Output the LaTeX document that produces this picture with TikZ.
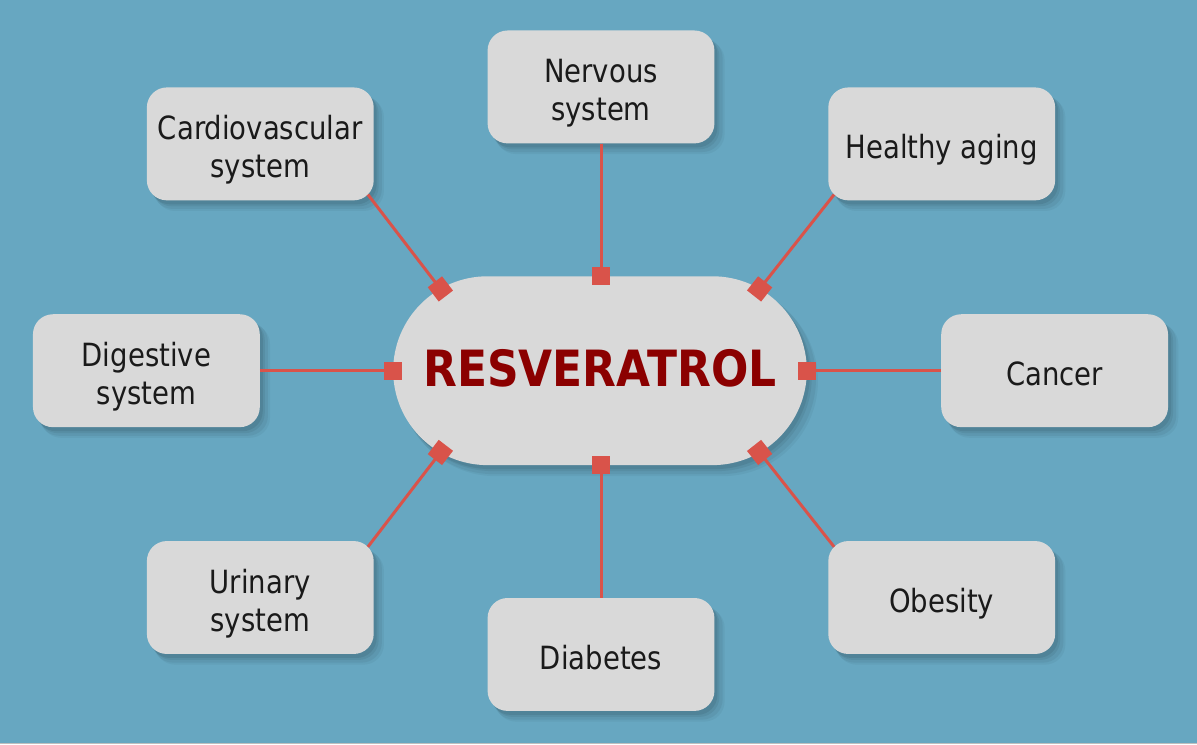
\documentclass[tikz,border=0pt]{standalone}
\usepackage{fontspec}
\setmainfont[FakeStretch=0.86]{DejaVu Sans}
\newfontfamily\titlefont[FakeStretch=0.88]{DejaVu Sans}
\usetikzlibrary{arrows.meta,shadows,shapes.misc,calc}
\definecolor{bg}{RGB}{103,167,193}
\definecolor{boxgray}{RGB}{217,217,217}
\definecolor{linkred}{RGB}{217,83,74}
\definecolor{titlered}{RGB}{139,0,0}
\definecolor{txt}{RGB}{26,26,26}
\newcommand\boxtext[1]{\raisebox{-7pt}[\height][\depth]{\begin{tabular}{@{}c@{}}#1\end{tabular}}}
\begin{document}
\begin{tikzpicture}[x=1pt,y=1pt,
  softshadow/.style={
    general shadow={fill=black, opacity=0.04, shadow xshift=9pt, shadow yshift=-10pt, shadow scale=1.01},
    general shadow={fill=black, opacity=0.05, shadow xshift=7pt, shadow yshift=-8pt, shadow scale=1.01},
    general shadow={fill=black, opacity=0.06, shadow xshift=5pt, shadow yshift=-6pt},
    general shadow={fill=black, opacity=0.07, shadow xshift=3pt, shadow yshift=-4pt}},
  topic/.style={rectangle, rounded corners=20pt, fill=boxgray, minimum width=227pt,
    minimum height=113pt, inner sep=0pt, text=txt,
    font=\fontsize{32}{38}\selectfont, softshadow},
  hub/.style={rounded rectangle, fill=boxgray, minimum width=414pt, minimum height=189pt,
    inner sep=0pt, text=titlered, font=\titlefont\bfseries\fontsize{50}{56}\selectfont,
    softshadow},
  linkline/.style={draw=linkred, line width=3pt, -{Square[length=18pt,width=18pt]}, shorten >=-9pt}
]
\fill[bg] (0,0) rectangle (1197,-745);
\draw[gray!50, line width=1pt] (0,-744.5) -- (1197,-744.5);
\useasboundingbox (0,0) rectangle (1197,-745);

\node[hub] (hub) at (600,-371) {\raisebox{2pt}[\height][\depth]{RESVERATROL}};

\node[topic] (nerv) at (601,-87) {\boxtext{Nervous\\system}};
\node[topic] (cv) at (260,-144) {\boxtext{Cardiovascular\\system}};
\node[topic] (ha) at (942,-144) {\boxtext{Healthy aging}};
\node[topic] (dig) at (146,-371) {\boxtext{Digestive\\system}};
\node[topic] (can) at (1055,-371) {\boxtext{Cancer}};
\node[topic] (uri) at (260,-598) {\boxtext{Urinary\\system}};
\node[topic] (obe) at (942,-598) {\boxtext{Obesity}};
\node[topic] (dia) at (601,-655) {\boxtext{Diabetes}};

\coordinate (pCV) at ($(hub.center)+(-112.5,0)+(120:94.5)$);
\coordinate (pHA) at ($(hub.center)+(112.5,0)+(60:94.5)$);
\coordinate (pUR) at ($(hub.center)+(-112.5,0)+(240:94.5)$);
\coordinate (pOB) at ($(hub.center)+(112.5,0)+(300:94.5)$);

\draw[linkline] (nerv.south) -- (nerv.south |- hub.north);
\draw[linkline] (dia.north) -- (dia.north |- hub.south);
\draw[linkline] (dig.east) -- (hub.west);
\draw[linkline] (can.west) -- (hub.east);
\draw[linkline] ($(cv.south east)+(-6,6)$) -- (pCV);
\draw[linkline] ($(ha.south west)+(6,6)$) -- (pHA);
\draw[linkline] ($(uri.north east)+(-6,-6)$) -- (pUR);
\draw[linkline] ($(obe.north west)+(6,-6)$) -- (pOB);
\end{tikzpicture}
\end{document}
